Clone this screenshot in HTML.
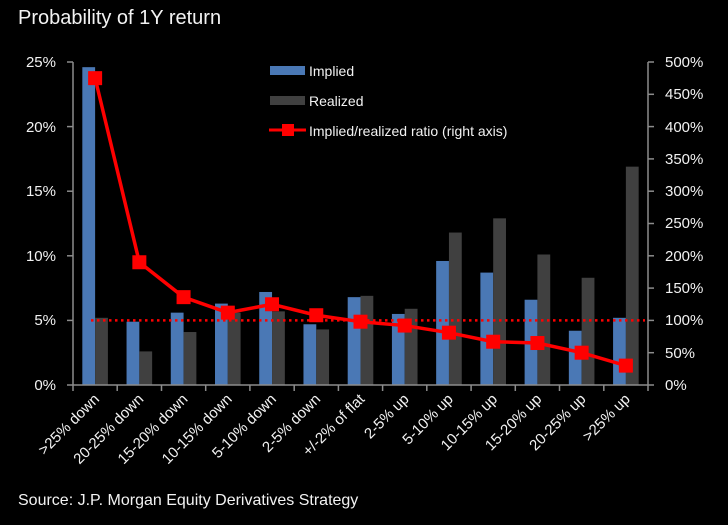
<!DOCTYPE html>
<html><head><meta charset="utf-8"><style>
html,body{margin:0;padding:0;background:#000;}
svg{display:block;}
text{font-family:"Liberation Sans",Arial,sans-serif;fill:#f2f2f2;}
</style></head><body>
<svg width="728" height="525" viewBox="0 0 728 525" xmlns="http://www.w3.org/2000/svg">
<rect width="728" height="525" fill="#000"/>
<text x="18" y="24" font-size="20">Probability of 1Y return</text>
<g id="bars"></g>
<g stroke="#8c8c8c" stroke-width="1.5" fill="none">
<line x1="73" y1="62" x2="73" y2="385"/>
<line x1="73" y1="385" x2="648" y2="385"/>
<line x1="648" y1="62" x2="648" y2="385"/>
<line x1="67" y1="62" x2="73" y2="62"/><line x1="67" y1="126.6" x2="73" y2="126.6"/><line x1="67" y1="191.2" x2="73" y2="191.2"/><line x1="67" y1="255.8" x2="73" y2="255.8"/><line x1="67" y1="320.4" x2="73" y2="320.4"/><line x1="67" y1="385" x2="73" y2="385"/>
<line x1="648" y1="62" x2="654" y2="62"/><line x1="648" y1="94.3" x2="654" y2="94.3"/><line x1="648" y1="126.6" x2="654" y2="126.6"/><line x1="648" y1="158.9" x2="654" y2="158.9"/><line x1="648" y1="191.2" x2="654" y2="191.2"/><line x1="648" y1="223.5" x2="654" y2="223.5"/><line x1="648" y1="255.8" x2="654" y2="255.8"/><line x1="648" y1="288.1" x2="654" y2="288.1"/><line x1="648" y1="320.4" x2="654" y2="320.4"/><line x1="648" y1="352.7" x2="654" y2="352.7"/><line x1="648" y1="385" x2="654" y2="385"/>
<line x1="73" y1="385" x2="73" y2="391"/><line x1="117.2" y1="385" x2="117.2" y2="391"/><line x1="161.5" y1="385" x2="161.5" y2="391"/><line x1="205.7" y1="385" x2="205.7" y2="391"/><line x1="249.9" y1="385" x2="249.9" y2="391"/><line x1="294.2" y1="385" x2="294.2" y2="391"/><line x1="338.4" y1="385" x2="338.4" y2="391"/><line x1="382.6" y1="385" x2="382.6" y2="391"/><line x1="426.8" y1="385" x2="426.8" y2="391"/><line x1="471.1" y1="385" x2="471.1" y2="391"/><line x1="515.3" y1="385" x2="515.3" y2="391"/><line x1="559.5" y1="385" x2="559.5" y2="391"/><line x1="603.8" y1="385" x2="603.8" y2="391"/><line x1="648" y1="385" x2="648" y2="391"/>
</g>
<g font-size="15" text-anchor="end">
<text x="56" y="67">25%</text><text x="56" y="132">20%</text><text x="56" y="196">15%</text><text x="56" y="261">10%</text><text x="56" y="325">5%</text><text x="56" y="390">0%</text>
</g>
<g font-size="15" text-anchor="start">
<text x="665" y="67">500%</text><text x="665" y="99">450%</text><text x="665" y="132">400%</text><text x="665" y="164">350%</text><text x="665" y="196">300%</text><text x="665" y="228">250%</text><text x="665" y="261">200%</text><text x="665" y="293">150%</text><text x="665" y="325">100%</text><text x="665" y="358">50%</text><text x="665" y="390">0%</text>
</g>
<g id="xl" font-size="15" text-anchor="end"></g>
<g id="line"></g>
<rect x="270" y="66" width="35" height="9" fill="#4a78b5"/>
<rect x="270" y="96" width="35" height="9" fill="#404040"/>
<line x1="269" y1="130" x2="306" y2="130" stroke="#ff0000" stroke-width="3"/>
<rect x="282" y="124" width="12" height="12" fill="#ff0000"/>
<g font-size="14"><text x="309" y="76">Implied</text><text x="309" y="106">Realized</text><text x="309" y="136">Implied/realized ratio (right axis)</text></g>
<text x="18" y="505" font-size="16">Source: J.P. Morgan Equity Derivatives Strategy</text>
<script>
var imp=[24.6,4.9,5.6,6.3,7.2,4.7,6.8,5.5,9.6,8.7,6.6,4.2,5.2];
var rea=[5.2,2.6,4.1,5.6,5.7,4.3,6.9,5.9,11.8,12.9,10.1,8.3,16.9];
var rat=[475,190,136,112,125,108,98,92,81,67,65,50,30];
var labs=[">25% down","20-25% down","15-20% down","10-15% down","5-10% down","2-5% down","+/-2% of flat","2-5% up","5-10% up","10-15% up","15-20% up","20-25% up",">25% up"];
var ns="http://www.w3.org/2000/svg";
function el(t,a,p){var e=document.createElementNS(ns,t);for(var k in a)e.setAttribute(k,a[k]);document.getElementById(p).appendChild(e);return e;}
var w=44.23,bw=12.8,pts=[];
for(var i=0;i<13;i++){var c=73+w*(i+0.5);
var h1=imp[i]*12.92,h2=rea[i]*12.92;
el("rect",{x:c-bw,y:385-h1,width:bw,height:h1,fill:"#4a78b5"},"bars");
el("rect",{x:c,y:385-h2,width:bw,height:h2,fill:"#404040"},"bars");
pts.push(c+","+(385-rat[i]*0.646));
var t=el("text",{x:c+5,y:400,transform:"rotate(-45 "+(c+5)+" 400)"},"xl");t.textContent=labs[i];}
el("line",{x1:91,y1:320.4,x2:645,y2:320.4,stroke:"#ff0000","stroke-width":2.5,"stroke-dasharray":"2.5,3.5"},"line");
el("polyline",{points:pts.join(" "),fill:"none",stroke:"#ff0000","stroke-width":3.5},"line");
for(var i=0;i<13;i++){var p=pts[i].split(",");el("rect",{x:p[0]-7,y:p[1]-7,width:14,height:14,fill:"#ff0000"},"line");}
</script>
</svg>
</body></html>
